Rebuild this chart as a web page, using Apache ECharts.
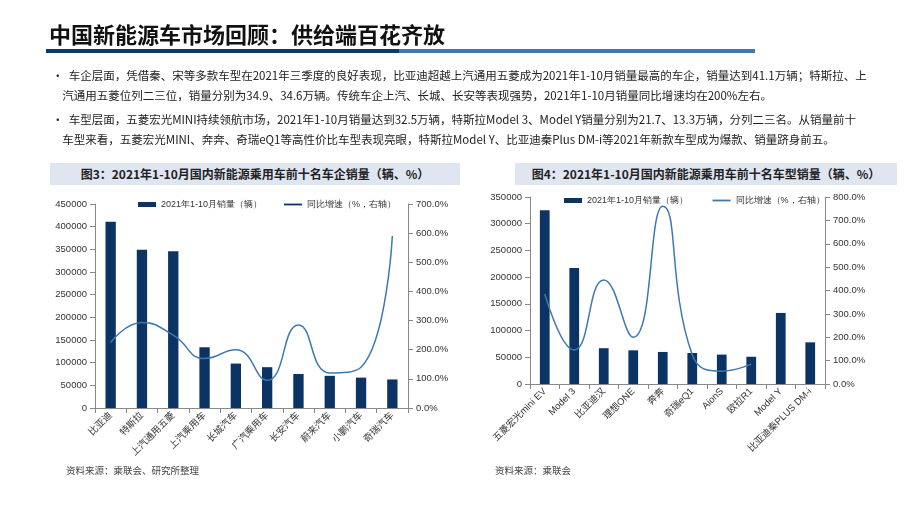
<!DOCTYPE html>
<html><head><meta charset="utf-8">
<script src="https://cdn.jsdelivr.net/npm/echarts@6/dist/echarts.min.js"></script>
<style>
body{margin:0;width:920px;height:518px;background:#fff;font-family:"Noto Sans CJK SC",sans-serif;position:relative;overflow:hidden}
#main{position:absolute;left:0;top:0;width:920px;height:518px}
.t{position:absolute;white-space:nowrap;color:#222}
.box{position:absolute;background:#dfe5f1;font-size:12px;font-weight:bold;text-align:center;line-height:22px;color:#222}
</style></head><body>
<div id="main"></div>
<div class="t" style="left:49px;top:17px;font-size:22px;font-weight:bold;color:#111">中国新能源车市场回顾：供给端百花齐放</div>
<div style="position:absolute;left:46px;top:49px;width:353px;height:4px;background:#0b3a6e"></div>
<div style="position:absolute;left:399px;top:49px;width:356px;height:4px;background:#3f78b8"></div>
<div class="t" style="left:52px;top:65px;font-size:11.5px;line-height:20px">•&nbsp; 车企层面，凭借秦、宋等多款车型在2021年三季度的良好表现，比亚迪超越上汽通用五菱成为2021年1-10月销量最高的车企，销量达到41.1万辆；特斯拉、上<br>&nbsp;&nbsp;&nbsp;&nbsp;汽通用五菱位列二三位，销量分别为34.9、34.6万辆。传统车企上汽、长城、长安等表现强势，2021年1-10月销量同比增速均在200%左右。</div>
<div class="t" style="left:52px;top:109px;font-size:11.5px;line-height:20px">•&nbsp; 车型层面，五菱宏光MINI持续领航市场，2021年1-10月销量达到32.5万辆，特斯拉Model 3、Model Y销量分别为21.7、13.3万辆，分列二三名。从销量前十<br>&nbsp;&nbsp;&nbsp;&nbsp;车型来看，五菱宏光MINI、奔奔、奇瑞eQ1等高性价比车型表现亮眼，特斯拉Model Y、比亚迪秦Plus DM-i等2021年新款车型成为爆款、销量跻身前五。</div>
<div class="box" style="left:50px;top:163px;width:410px;height:22px">图3：2021年1-10月国内新能源乘用车前十名车企销量（辆、%）</div>
<div class="box" style="left:515px;top:163px;width:382px;height:22px">图4：2021年1-10月国内新能源乘用车前十名车型销量（辆、%）</div>
<div class="t" style="left:66px;top:463px;font-size:9.5px;color:#444">资料来源：乘联会、研究所整理</div>
<div class="t" style="left:495px;top:463px;font-size:9.5px;color:#444">资料来源：乘联会</div>
<script>
const makers = ['比亚迪','特斯拉','上汽通用五菱','上汽乘用车','长城汽车','广汽乘用车','长安汽车','蔚来汽车','小鹏汽车','奇瑞汽车'];
const makerSales = [411000,349000,346000,134000,98000,90000,75000,71000,67000,63000];
const makerGrowth = [225,293,250,170,200,95,285,120,140,590];
const models = ['五菱宏光mini EV','Model 3','比亚迪汉','理想ONE','奔奔','奇瑞eQ1','AionS','欧拉R1','Model Y','比亚迪秦PLUS DM-i'];
const modelSales = [325000,217000,67000,63000,60000,58000,55000,51000,133000,78000];
const modelGrowth = [385,145,445,200,760,125,55,85,null,null];

const chart = echarts.init(document.getElementById('main'));
const axTxt = {color:'#333',fontSize:9.5,fontFamily:'Liberation Sans, Noto Sans CJK SC'};
const axLine = {show:true,lineStyle:{color:'#888'}};
function xa(g,data){return {type:'category',gridIndex:g,data:data,axisLine:axLine,axisTick:{show:true,lineStyle:{color:'#888'}},
  axisLabel:Object.assign({rotate:45,interval:0,margin:6},axTxt)};}
function ya(g,max,interval,pct,right){return {type:'value',gridIndex:g,min:0,max:max,interval:interval,position:right?'right':'left',
  splitLine:{show:false},axisLine:axLine,axisTick:{show:true,lineStyle:{color:'#888'}},
  axisLabel:Object.assign({formatter:pct?(v=>v.toFixed(1)+'%'):(v=>String(v))},axTxt)};}
const barColor='#0b3464', lineColor='#3d78b0';
const lineIcon='path://M0,0H10V1H0Z';
chart.setOption({
  animation:false,
  color:[barColor,lineColor],
  legend:[
    {left:133,top:195,itemWidth:18,itemHeight:5,itemGap:22,textStyle:{fontSize:9,color:'#333'},data:[{name:'2021年1-10月销量（辆）',icon:'rect'},{name:'同比增速（%，右轴）',icon:lineIcon}]},
    {left:559,top:191,itemWidth:18,itemHeight:5,itemGap:22,textStyle:{fontSize:9,color:'#333'},data:[{name:'2021年1-10月销量（辆） ',icon:'rect'},{name:'同比增速（%，右轴） ',icon:lineIcon}]}
  ],
  grid:[
    {left:95,right:512,top:204,bottom:110},
    {left:530,right:95,top:197,bottom:134}
  ],
  xAxis:[xa(0,makers),xa(1,models)],
  yAxis:[ya(0,450000,50000,false,false),ya(0,700,100,true,true),ya(1,350000,50000,false,false),ya(1,800,100,true,true)],
  series:[
    {name:'2021年1-10月销量（辆）',type:'bar',xAxisIndex:0,yAxisIndex:0,data:makerSales,barWidth:'33%',itemStyle:{color:barColor}},
    {name:'同比增速（%，右轴）',type:'line',xAxisIndex:0,yAxisIndex:1,data:makerGrowth,smooth:true,symbol:'none',lineStyle:{color:lineColor,width:1.5}},
    {name:'2021年1-10月销量（辆） ',type:'bar',xAxisIndex:1,yAxisIndex:2,data:modelSales,barWidth:'33%',itemStyle:{color:barColor}},
    {name:'同比增速（%，右轴） ',type:'line',xAxisIndex:1,yAxisIndex:3,data:modelGrowth,smooth:true,symbol:'none',lineStyle:{color:lineColor,width:1.5},itemStyle:{color:lineColor}}
  ]
});
</script>
</body></html>
